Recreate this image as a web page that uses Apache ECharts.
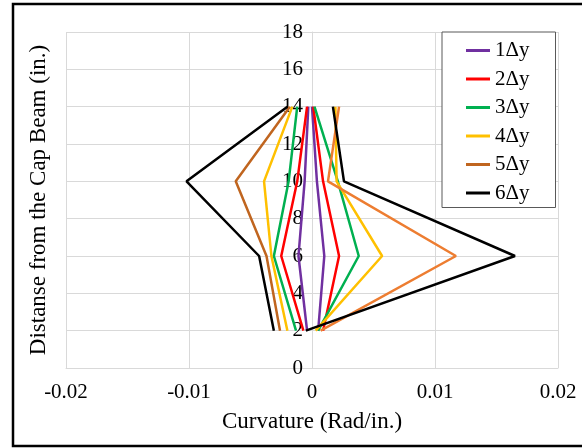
<!DOCTYPE html>
<html>
<head>
<meta charset="utf-8">
<script src="https://cdn.jsdelivr.net/npm/echarts@6/dist/echarts.min.js"></script>
<style>
  html, body { margin: 0; padding: 0; background: #fff; }
  #chart { width: 582px; height: 448px; }
</style>
</head>
<body>
<div id="chart"></div>
<script>
// depth from the cap beam (in.) where the curvature was measured
const depths = [2, 6, 10, 14];
const xTicks = [-0.02, -0.01, 0, 0.01, 0.02];
const yTicks = [0, 2, 4, 6, 8, 10, 12, 14, 16, 18];
const names = ["1Δy", "2Δy", "3Δy", "4Δy", "5Δy", "6Δy"];

// curvature (rad/in.) per depth, left (negative) and right (positive) branch
const d1Left = [-0.0004, -0.0011, -0.0006, -0.0003];
const d1Right = [0.0005, 0.0010, 0.0004, 0.0000];
const d2Left = [-0.0007, -0.0025, -0.0012, -0.0004];
const d2Right = [0.0009, 0.0022, 0.0009, 0.0001];
const d3Left = [-0.0013, -0.0031, -0.0019, -0.0012];
const d3Right = [0.0005, 0.0038, 0.0021, 0.0002];
const d4Left = [-0.0020, -0.0033, -0.0039, -0.0016];
const d4Right = [0.0003, 0.0057, 0.0020, 0.0019];
const d5Left = [-0.0026, -0.0037, -0.0062, -0.0018];
const d5Right = [0.0007, 0.0117, 0.0013, 0.0022];
const d6Left = [-0.0031, -0.0043, -0.0102, -0.0020];
const d6Right = [-0.0005, 0.0165, 0.0026, 0.0017];

const leftSets = [d1Left, d2Left, d3Left, d4Left, d5Left, d6Left];
const rightSets = [d1Right, d2Right, d3Right, d4Right, d5Right, d6Right];
const leftColors = ["#7030A0", "#FF0000", "#00B050", "#FFC000", "#C0651F", "#000000"];
const rightColors = ["#7030A0", "#FF0000", "#00B050", "#FFC000", "#ED7D31", "#000000"];

const FONT = "Liberation Serif";
const GRID_LEFT = 66, GRID_RIGHT = 24;
// the vertical axis sits on x = 0, half way across the plot
const yAxisShift = (582 - GRID_LEFT - GRID_RIGHT) / 2;

function branch(name, vals, color) {
  return {
    name: name,
    type: "line",
    symbol: "none",
    data: depths.map((d, i) => [vals[i], d]),
    lineStyle: { color: color, width: 2.5 },
    itemStyle: { color: color },
    emphasis: { disabled: true },
  };
}

const series = [];
names.forEach((n, i) => series.push(branch(n, leftSets[i], leftColors[i])));
names.forEach((n, i) => series.push(branch(n, rightSets[i], rightColors[i])));

const chart = echarts.init(document.getElementById("chart"));
chart.setOption({
  animation: false,
  backgroundColor: "#fff",
  grid: {
    left: GRID_LEFT, right: GRID_RIGHT, top: 32, bottom: 80,
    containLabel: false, outerBoundsMode: "none",
  },
  graphic: [{
    type: "rect",
    shape: { x: 13, y: 4, width: 600, height: 442 },
    style: { fill: "none", stroke: "#000", lineWidth: 2.5 },
    silent: true,
  }],
  legend: {
    data: names,
    orient: "vertical",
    left: 442,
    top: 32,
    padding: [8, 26, 4, 24],
    itemGap: 7.5,
    itemWidth: 24,
    itemHeight: 3,
    icon: "rect",
    backgroundColor: "#fff",
    borderColor: "#595959",
    borderWidth: 1,
    textStyle: { fontFamily: FONT, fontSize: 21, color: "#000" },
  },
  xAxis: {
    type: "value",
    min: xTicks[0],
    max: xTicks[xTicks.length - 1],
    interval: 0.01,
    name: "Curvature (Rad/in.)",
    nameLocation: "middle",
    nameGap: 42,
    nameTextStyle: { fontFamily: FONT, fontSize: 23, color: "#000" },
    axisLine: { show: true, lineStyle: { color: "#d9d9d9", width: 1 } },
    axisTick: { show: false },
    axisLabel: { fontFamily: FONT, fontSize: 21, color: "#000", margin: 14 },
    splitLine: { show: true, lineStyle: { color: "#d9d9d9", width: 1 } },
  },
  yAxis: {
    type: "value",
    position: "left",
    offset: -yAxisShift,
    min: yTicks[0],
    max: yTicks[yTicks.length - 1],
    interval: 2,
    name: "Distanse from the Cap Beam (in.)",
    nameLocation: "middle",
    nameGap: 262,
    nameTextStyle: { fontFamily: FONT, fontSize: 23, color: "#000" },
    axisLine: { show: true, onZero: false, lineStyle: { color: "#d9d9d9", width: 1 } },
    axisTick: { show: false },
    axisLabel: { fontFamily: FONT, fontSize: 21, color: "#000", margin: 9 },
    splitLine: { show: true, lineStyle: { color: "#d9d9d9", width: 1 } },
  },
  series: series,
});
</script>
</body>
</html>
